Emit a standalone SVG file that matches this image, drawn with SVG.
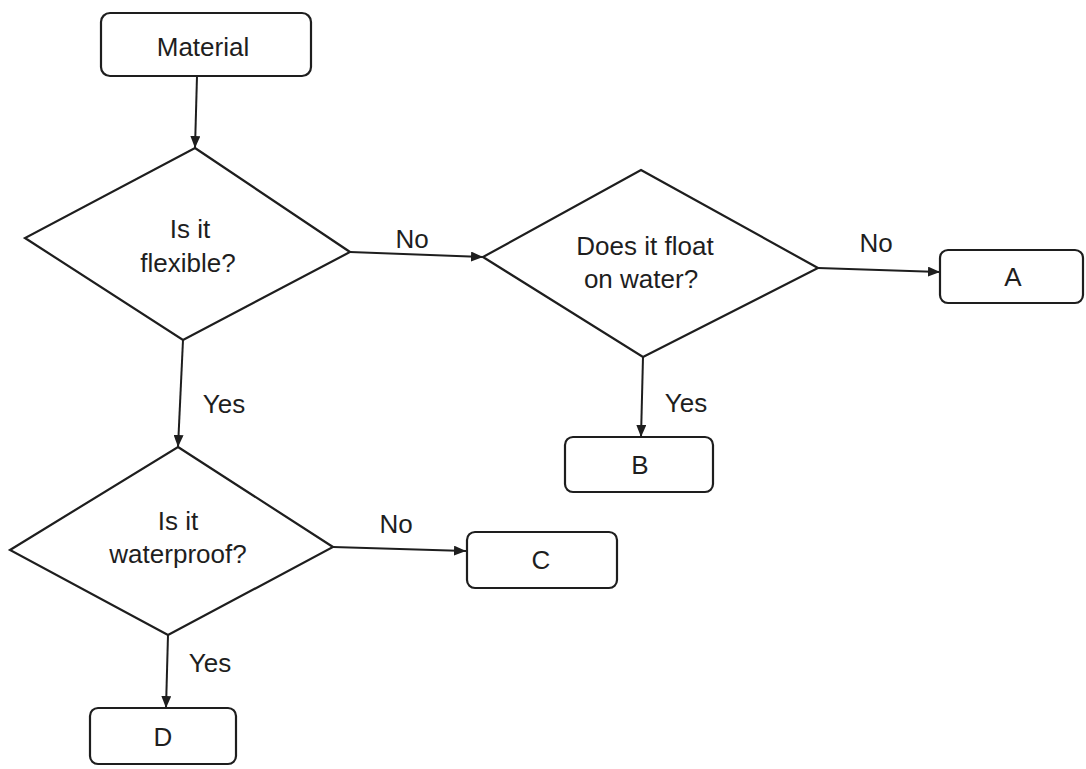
<svg xmlns="http://www.w3.org/2000/svg" width="1086" height="769" viewBox="0 0 1086 769">
<style>
.box{fill:#fff;stroke:#1e1e1e;stroke-width:2.2}
.dia{fill:#fff;stroke:#1e1e1e;stroke-width:2.2;stroke-linejoin:miter}
.t{font-family:"Liberation Sans",Arial,sans-serif;font-size:26px;fill:#1e1e1e;text-anchor:middle}
.c{stroke:#1e1e1e;stroke-width:2;fill:none;marker-end:url(#ah)}
</style>
<defs>
<marker id="ah" viewBox="0 0 12 10" refX="12" refY="5" markerWidth="12" markerHeight="10" markerUnits="userSpaceOnUse" orient="auto">
<path d="M0,0 L12,5 L0,10 Z" fill="#1e1e1e"/>
</marker>
</defs>
<rect width="1086" height="769" fill="#fff"/>
<g id="connectors">
<line class="c" x1="197" y1="76" x2="195" y2="148"/>
<line class="c" x1="350" y1="252" x2="483" y2="257"/>
<line class="c" x1="183" y1="340" x2="178" y2="447"/>
<line class="c" x1="818" y1="268" x2="940" y2="272"/>
<line class="c" x1="643" y1="357" x2="641" y2="437"/>
<line class="c" x1="333" y1="547" x2="466" y2="551"/>
<line class="c" x1="168" y1="635" x2="166" y2="708"/>
<text class="t" x="412" y="248">No</text>
<text class="t" x="224" y="413">Yes</text>
<text class="t" x="876" y="252">No</text>
<text class="t" x="686" y="412">Yes</text>
<text class="t" x="396" y="533">No</text>
<text class="t" x="210" y="672">Yes</text>
</g>
<g id="material">
<rect class="box" x="101" y="13" width="210" height="63" rx="9"/>
<text class="t" x="203" y="56">Material</text>
</g>
<g id="flexible">
<polygon class="dia" points="195,148 350,252 183,340 25,238"/>
<text class="t" x="190" y="238">Is it</text>
<text class="t" x="188" y="272">flexible?</text>
</g>
<g id="float">
<polygon class="dia" points="641,170 818,268 643,357 483,257"/>
<text class="t" x="645" y="255">Does it float</text>
<text class="t" x="641" y="288">on water?</text>
</g>
<g id="A">
<rect class="box" x="940" y="250" width="143" height="53" rx="8"/>
<text class="t" x="1013" y="286">A</text>
</g>
<g id="B">
<rect class="box" x="565" y="437" width="148" height="55" rx="8"/>
<text class="t" x="640" y="474">B</text>
</g>
<g id="waterproof">
<polygon class="dia" points="178,447 333,547 168,635 10,550"/>
<text class="t" x="178" y="530">Is it</text>
<text class="t" x="178" y="563">waterproof?</text>
</g>
<g id="C">
<rect class="box" x="467" y="532" width="150" height="56" rx="8"/>
<text class="t" x="541" y="569">C</text>
</g>
<g id="D">
<rect class="box" x="90" y="708" width="146" height="56" rx="8"/>
<text class="t" x="163" y="746">D</text>
</g>
</svg>
